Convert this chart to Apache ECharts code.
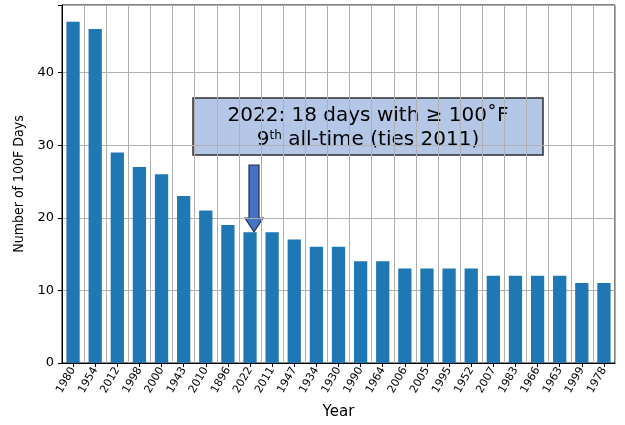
<!DOCTYPE html>
<html><head><meta charset="utf-8">
<script src="https://cdn.jsdelivr.net/npm/echarts@6/dist/echarts.min.js"></script>
<style>html,body{margin:0;padding:0;background:#fff}#c{width:625px;height:425px}</style>
</head><body><div id="c"></div>
<script>
const years = ['1980','1954','2012','1998','2000','1943','2010','1896','2022','2011','1947','1934','1930','1990','1964','2006','2005','1995','1952','2007','1983','1966','1963','1999','1978'];
const days = [47,46,29,27,26,23,21,19,18,18,17,16,16,14,14,13,13,13,13,12,12,12,12,11,11];
const yTicks = [0,10,20,30,40];
const chart = echarts.init(document.getElementById('c'));
chart.setOption({
  animation:false,
  grid:{left:62,right:10,top:5,bottom:55,show:true,borderColor:'#000',borderWidth:1},
  xAxis:{type:'category',data:years,name:'Year',nameLocation:'middle',nameGap:42,
    nameTextStyle:{fontSize:15,color:'#000',fontFamily:'DejaVu Sans'},
    axisTick:{show:true,alignWithLabel:true,length:4,lineStyle:{color:'#000'}},
    axisLine:{lineStyle:{color:'#000'}},
    splitLine:{show:true,lineStyle:{color:'#b0b0b0'}},
    axisLabel:{rotate:60,fontSize:11,color:'#000',margin:5,interval:0,fontFamily:'DejaVu Sans'},
    boundaryGap:true},
  yAxis:{type:'value',min:0,max:49.3,interval:10,
    name:'Number of 100F Days',nameLocation:'middle',nameGap:36,
    nameTextStyle:{fontSize:14,color:'#000',fontFamily:'Liberation Sans Narrow, DejaVu Sans Condensed'},
    axisLine:{show:true,lineStyle:{color:'#000'}},
    axisTick:{show:true,length:4,lineStyle:{color:'#000'}},
    splitLine:{show:true,lineStyle:{color:'#b0b0b0'}},
    axisLabel:{fontSize:13,color:'#000',fontFamily:'DejaVu Sans',
      formatter:v=>yTicks.includes(v)?String(v):''}},
  series:[{type:'bar',data:days,barWidth:'60%',itemStyle:{color:'#1f77b4'}}],
  graphic:[
    {type:'rect',shape:{x:193,y:98,width:350,height:57},style:{fill:'#b4c7e7',stroke:'#2f2f2f',lineWidth:1.5}},
    {type:'text',x:368,y:116,style:{text:'2022: 18 days with ≥ 100˚F',fontSize:20,fill:'#000',align:'center',verticalAlign:'middle',fontFamily:'DejaVu Sans'}},
    {type:'text',x:368,y:140,style:{text:'{a|9}{s|th}{a| all-time (ties 2011)}',align:'center',verticalAlign:'middle',
      rich:{a:{fontSize:20,fill:'#000',fontFamily:'DejaVu Sans'},s:{fontSize:12,fill:'#000',verticalAlign:'top',padding:[0,0,8,0],fontFamily:'DejaVu Sans'}}}},
    {type:'polygon',shape:{points:[[249,165],[259,165],[259,218],[263,218],[254,232],[245,218],[249,218]]},style:{fill:'#4472c4',stroke:'#1f2f4f',lineWidth:1.2}}
  ]
});
</script></body></html>
